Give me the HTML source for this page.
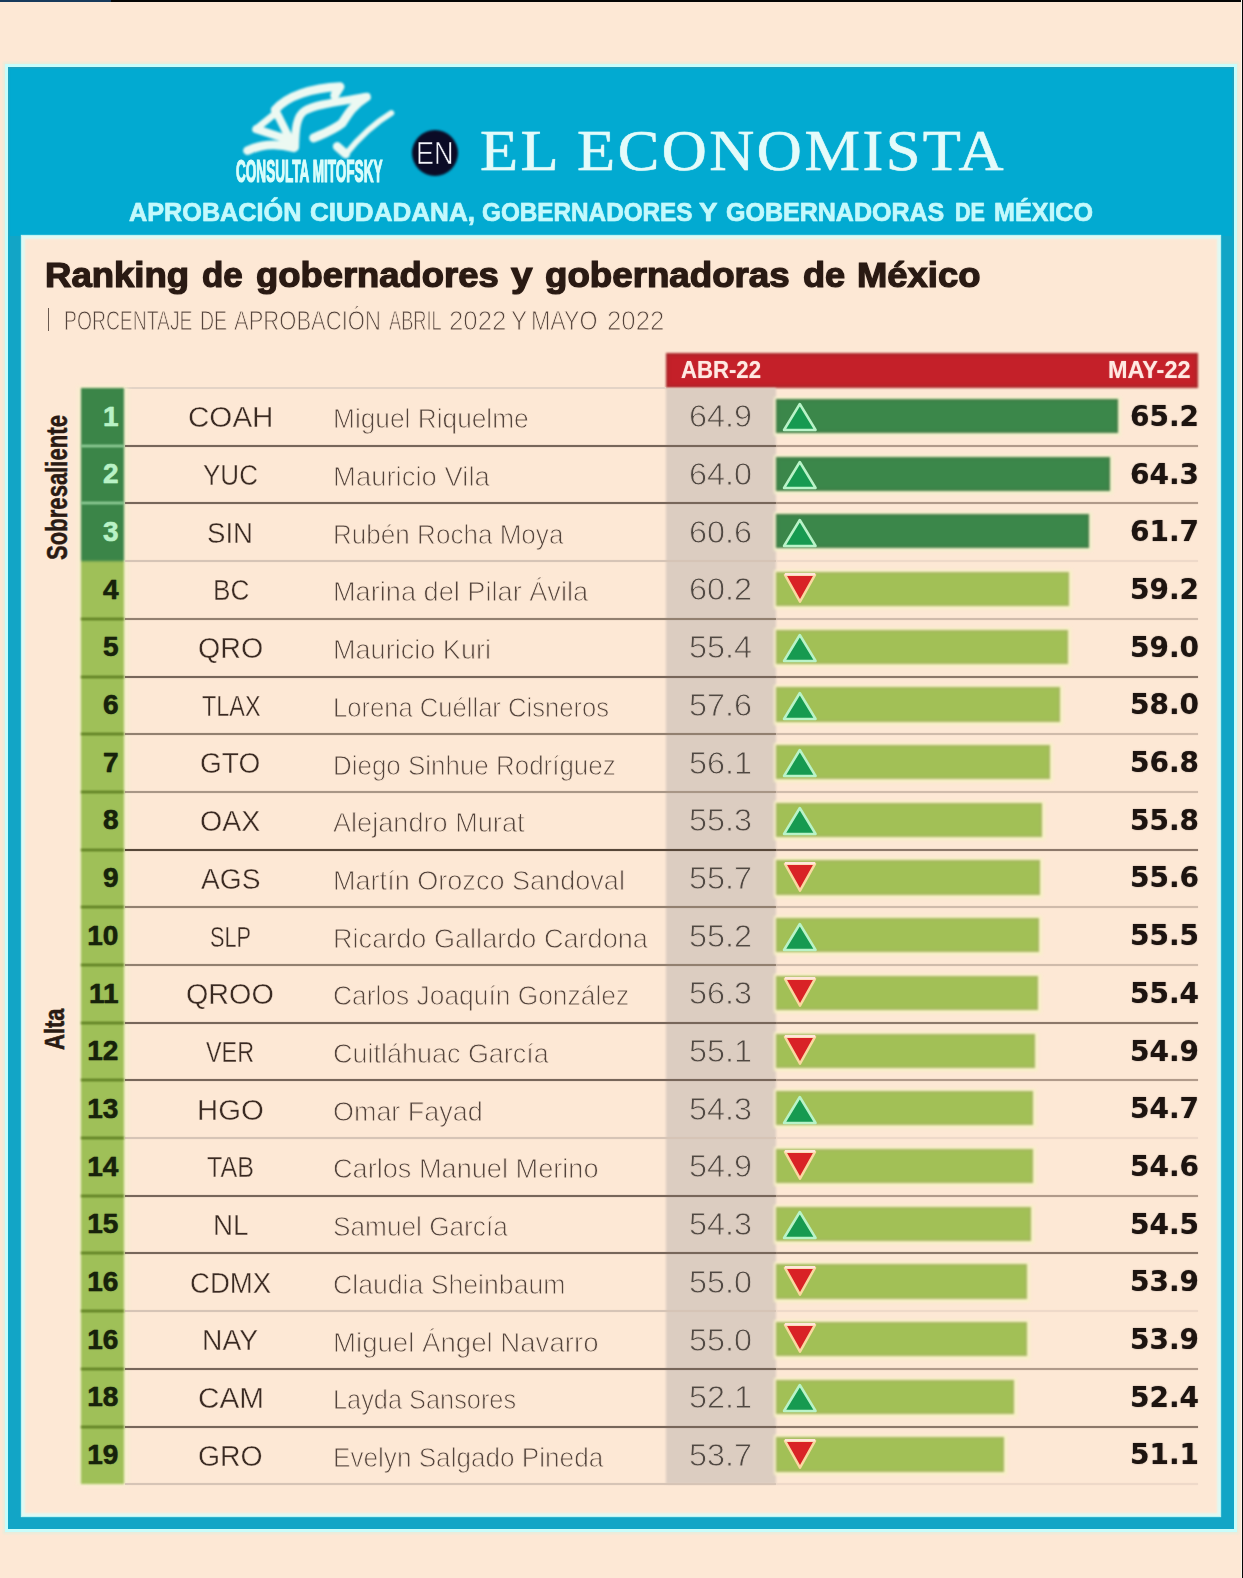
<!DOCTYPE html>
<html lang="es"><head><meta charset="utf-8"><title>Ranking de gobernadores y gobernadoras de México</title>
<style>
html,body{margin:0;padding:0}
body{width:1243px;height:1578px;overflow:hidden;background:#fde8d5}
.page{position:relative;width:1243px;height:1578px;overflow:hidden;background:#fde8d5}
.page *{position:absolute;margin:0;padding:0;box-sizing:border-box}
.t{white-space:pre;line-height:0;height:0;transform-origin:0 0;display:block}
.topbar{left:0;top:0;width:1243px;height:2px;background:#050505}
.topbar i{left:0;top:0;width:111px;height:2px;background:#173a5c}
.edge{left:1240.6px;top:0;width:2.4px;height:1578px;background:linear-gradient(90deg,#f6f6ee 0,#f6f6ee 55%,#060606 60%,#060606 100%)}
.frame{left:8px;top:67px;width:1226px;height:1462px;background:#02aad1;box-shadow:inset 0 0 1px 1.5px #239fbb,0 0 0 3px #c9fdfb,0 0 2px 5px #e9ecdb}
.band{left:22px;top:236px;width:1198px;height:1280px;box-shadow:0 0 0 14px #12a5c6;clip-path:inset(0 -14px -13px -14px)}
.panel{left:22px;top:236px;width:1198px;height:1280px;background:#fde8d5;box-shadow:inset 0 0 2px 3px #e0f9f3,0 0 1px 1px #bff3f2}
.en-dot{left:412px;top:129.5px;width:46px;height:46px;border-radius:50%;background:#0b0b26}
.pipe{left:47.6px;top:307.5px;width:1.6px;height:23.5px;background:#6a5a50}
.tagline,.title,.sub{left:0;top:0;width:0;height:0}
.thead{left:665.5px;top:353px;width:532.5px;height:34.5px;background:#c42029;box-shadow:inset 0 0 4px 1px rgba(140,50,45,.7)}
.abrcol{left:665.5px;top:387.5px;width:110.5px;height:1096.5px;background:#dccdc1}
.topline{left:125px;top:387px;width:541px;height:1.5px;background:#e3d3c6}
.ln{left:125px;height:2px;width:1073px;background:#84705f}
.ln.l{background:#c5b4a6}
.rkc{left:80.7px;width:43.4px;box-shadow:3px 0 4px 1px #f7f0cf,-2px 0 3px 1px #f7f0cf}
.rln{left:80.7px;width:43.4px;height:2px}
.rln.d{background:#a9e3ae}
.rln.g{background:#4d6d14}
.bar{left:776px;height:34.3px}
.bar.d{background:#3b874a;box-shadow:0 0 2px 2.5px #f3f0cc,inset 0 0 3px 1px rgba(90,110,70,.55)}
.bar.g{background:#a2c056;box-shadow:0 0 2px 2.5px #f7f1c6,inset 0 0 3px 1px rgba(170,175,110,.8)}
.tri{width:40px;height:34px;overflow:visible}
.hdr,.content{left:0;top:0;width:1243px;height:1578px}
.bar,.rkc,.thead,.abrcol,.en-dot,.rln{filter:blur(.8px)}
.f1{font:bold 30.5px/0 'Liberation Sans',sans-serif;color:#d9fdfb;-webkit-text-stroke:1.2px #d9fdfb;text-shadow:0 0 1.2px #d9fdfb99}
.f2{font:normal 31px/0 'Liberation Sans',sans-serif;color:#f4f4fa;-webkit-text-stroke:.6px #0b0b26}
.f3{font:normal 58px/0 'Liberation Serif',serif;color:#e4fbfa;letter-spacing:2.35px;-webkit-text-stroke:.5px #e4fbfa;text-shadow:0 0 1.2px #e4fbfa99}
.f4{font:bold 26px/0 'Liberation Sans',sans-serif;color:#c4f9fc;-webkit-text-stroke:.6px #c4f9fc;text-shadow:0 0 1.2px #c4f9fc99}
.f5{font:bold 34.6px/0 'Liberation Sans',sans-serif;color:#2a1a13;-webkit-text-stroke:1.2px #2a1a13;text-shadow:0 0 1.2px #2a1a1399}
.f6{font:normal 27.3px/0 'Liberation Sans',sans-serif;color:#54433b;-webkit-text-stroke:.9px #fde8d5}
.f7{font:bold 24px/0 'Liberation Sans',sans-serif;color:#ffe9e2;text-shadow:0 0 1.2px #ffe9e299}
.f8{font:bold 28px/0 'Liberation Sans',sans-serif;color:#b9f2c6;-webkit-text-stroke:.4px #b9f2c6;text-shadow:0 0 1.2px #b9f2c699}
.f9{font:normal 30px/0 'Liberation Sans',sans-serif;color:#3a2a22;-webkit-text-stroke:.4px #fde8d5}
.f10{font:normal 28px/0 'Liberation Sans',sans-serif;color:#54443c;-webkit-text-stroke:.85px #fde8d5}
.f11{font:normal 30.5px/0 'Liberation Sans',sans-serif;color:#504842;-webkit-text-stroke:.8px #dccdc1}
.f12{font:bold 28px/0 'DejaVu Sans','Liberation Sans',sans-serif;color:#1d1410;text-shadow:0 0 1.2px #1d141099}
.f13{font:bold 28px/0 'Liberation Sans',sans-serif;color:#17220b;-webkit-text-stroke:.4px #17220b;text-shadow:0 0 1.2px #17220b99}
.side{white-space:pre;height:0;transform-origin:0 0;font:bold 29px/0 'Liberation Sans',sans-serif;color:#2a1a13}
</style></head>
<body>
<div class="page">
<div class="topbar"><i></i></div>
<div class="edge"></div>
<section class="frame"></section>
<div class="band"></div>
<header class="hdr">
<svg class="logo" style="left:230px;top:75px;width:170px;height:120px;overflow:visible;filter:blur(.8px)" viewBox="0 0 1243 877" fill="none" stroke="#ecf9f2" stroke-linecap="round" stroke-linejoin="round">
<path d="M330 255 C420 150 600 95 805 85 L765 150" stroke-width="64"/>
<path d="M1000 160 C800 195 620 215 545 262 C485 300 478 400 475 525" stroke-width="60"/>
<path d="M990 165 C900 220 860 290 822 350 C760 400 680 430 612 460" stroke-width="66"/>
<path d="M332 258 L455 505" stroke-width="58"/>
<path d="M192 396 L458 482" stroke-width="60"/>
<path d="M196 390 L330 282" stroke-width="50"/>
<path d="M128 553 C220 508 340 496 468 532" stroke-width="64"/>
<path d="M784 522 L846 578" stroke-width="64"/>
<path d="M846 580 C950 450 1060 350 1180 278" stroke-width="42"/>
</svg>

<div class="en-dot"></div>

<span class="t mit f1" style="left:235.5px;top:171.3px;transform:scaleX(0.4449)">CONSULTA MITOFSKY</span>
<span class="t en f2" style="left:415.5px;top:154.3px;transform:scaleX(0.8705)">EN</span>
<span class="t brand f3" style="left:480.0px;top:151.2px;transform:scaleX(1.0750)">EL ECONOMISTA</span>
<p class="tagline"><span class="t w f4" style="left:128.8px;top:212.4px;transform:scaleX(0.9703)">APROBACIÓN</span> <span class="t w f4" style="left:309.5px;top:212.4px;transform:scaleX(1.0020)">CIUDADANA,</span> <span class="t w f4" style="left:481.5px;top:212.4px;transform:scaleX(0.9341)">GOBERNADORES</span> <span class="t w f4" style="left:698.5px;top:212.4px;transform:scaleX(1.0667)">Y</span> <span class="t w f4" style="left:726.0px;top:212.4px;transform:scaleX(0.9625)">GOBERNADORAS</span> <span class="t w f4" style="left:954.6px;top:212.4px;transform:scaleX(0.8304)">DE</span> <span class="t w f4" style="left:993.5px;top:212.4px;transform:scaleX(0.9651)">MÉXICO</span></p>
</header>
<main class="panel"></main>
<div class="content">
<h1 class="title"><span class="t w f5" style="left:45.2px;top:275.2px;transform:scaleX(1.0564)">Ranking</span> <span class="t w f5" style="left:202.2px;top:275.2px;transform:scaleX(1.0109)">de</span> <span class="t w f5" style="left:256.4px;top:275.2px;transform:scaleX(1.0526)">gobernadores</span> <span class="t w f5" style="left:511.3px;top:275.2px;transform:scaleX(1.1178)">y</span> <span class="t w f5" style="left:545.1px;top:275.2px;transform:scaleX(1.0612)">gobernadoras</span> <span class="t w f5" style="left:803.1px;top:275.2px;transform:scaleX(1.0456)">de</span> <span class="t w f5" style="left:857.2px;top:275.2px;transform:scaleX(1.0526)">México</span></h1>
<p class="sub"><span class="t w f6" style="left:64.0px;top:321.4px;transform:scaleX(0.7080)">PORCENTAJE</span> <span class="t w f6" style="left:200.3px;top:321.4px;transform:scaleX(0.7146)">DE</span> <span class="t w f6" style="left:234.4px;top:321.4px;transform:scaleX(0.8065)">APROBACIÓN</span> <span class="t w f6" style="left:389.0px;top:321.4px;transform:scaleX(0.6666)">ABRIL</span> <span class="t w f6" style="left:449.4px;top:321.4px;transform:scaleX(0.9451)">2022</span> <span class="t w f6" style="left:510.5px;top:321.4px;transform:scaleX(0.8892)">Y</span> <span class="t w f6" style="left:531.0px;top:321.4px;transform:scaleX(0.8487)">MAYO</span> <span class="t w f6" style="left:606.5px;top:321.4px;transform:scaleX(0.9435)">2022</span></p>
<div class="pipe"></div><div class="thead"></div>
<span class="t th f7" style="left:681.0px;top:370.4px;transform:scaleX(0.9229)">ABR-22</span>
<span class="t th f7" style="left:1107.5px;top:370.4px;transform:scaleX(0.9763)">MAY-22</span>
<div class="abrcol"></div><div class="topline"></div>
<div class="rkc" style="top:388.0px;height:1096.3px;background:linear-gradient(#3b8548 0,#3b8548 172.1px,#9fc058 174.1px)"></div>
<div class="row" style="left:0;top:0"> <span class="t rk f8" style="left:102.9px;top:416.5px;transform:scaleX(1.0000)">1</span> <span class="t code f9" style="left:187.5px;top:417.2px;transform:scaleX(0.9863)">COAH</span> <span class="t name f10" style="left:333.3px;top:419.3px;transform:scaleX(0.9384)">Miguel Riquelme</span> <span class="t abr f11" style="left:689.0px;top:416.3px;transform:scaleX(1.0611)">64.9</span> <div class="bar d" style="top:398.8px;width:341.6px"></div> <svg class="tri" style="left:780px;top:400.2px" viewBox="0 0 40 34"><path d="M19.8 4 L35.6 30 L4 30 Z" fill="#169a50" stroke="#b9f3c8" stroke-width="2.5" stroke-linejoin="round"/></svg> <span class="t may f12" style="left:1129.5px;top:416.8px;transform:scaleX(0.9986)">65.2</span> <div class="ln" style="top:445.2px;height:1.6px;width:651px;background:#77665a;box-shadow:0 0 1px #77665aaa"></div> <div class="ln" style="top:445.2px;height:1.6px;left:776px;width:422px;background:#b09a8a;box-shadow:0 0 1px #b09a8aaa"></div> <div class="rln d" style="top:445px"></div> </div>
<div class="row" style="left:0;top:0"> <span class="t rk f8" style="left:102.9px;top:474.2px;transform:scaleX(1.0000)">2</span> <span class="t code f9" style="left:203.0px;top:474.9px;transform:scaleX(0.8683)">YUC</span> <span class="t name f10" style="left:333.3px;top:477.0px;transform:scaleX(0.9813)">Mauricio Vila</span> <span class="t abr f11" style="left:689.0px;top:474.0px;transform:scaleX(1.0611)">64.0</span> <div class="bar d" style="top:456.5px;width:334.3px"></div> <svg class="tri" style="left:780px;top:457.9px" viewBox="0 0 40 34"><path d="M19.8 4 L35.6 30 L4 30 Z" fill="#169a50" stroke="#b9f3c8" stroke-width="2.5" stroke-linejoin="round"/></svg> <span class="t may f12" style="left:1129.5px;top:474.5px;transform:scaleX(0.9986)">64.3</span> <div class="ln" style="top:502.2px;height:1.6px;width:651px;background:#77665a;box-shadow:0 0 1px #77665aaa"></div> <div class="ln" style="top:502.2px;height:1.6px;left:776px;width:422px;background:#b09a8a;box-shadow:0 0 1px #b09a8aaa"></div> <div class="rln d" style="top:502px"></div> </div>
<div class="row" style="left:0;top:0"> <span class="t rk f8" style="left:102.9px;top:531.9px;transform:scaleX(1.0000)">3</span> <span class="t code f9" style="left:207.0px;top:532.6px;transform:scaleX(0.9197)">SIN</span> <span class="t name f10" style="left:333.3px;top:534.7px;transform:scaleX(0.9310)">Rubén Rocha Moya</span> <span class="t abr f11" style="left:689.0px;top:531.7px;transform:scaleX(1.0611)">60.6</span> <div class="bar d" style="top:514.2px;width:313.3px"></div> <svg class="tri" style="left:780px;top:515.6px" viewBox="0 0 40 34"><path d="M19.8 4 L35.6 30 L4 30 Z" fill="#169a50" stroke="#b9f3c8" stroke-width="2.5" stroke-linejoin="round"/></svg> <span class="t may f12" style="left:1129.5px;top:532.2px;transform:scaleX(0.9986)">61.7</span> <div class="ln" style="top:560.2px;height:1.6px;width:651px;background:#d6c4b6;box-shadow:0 0 1px #d6c4b6aa"></div> <div class="ln" style="top:560.2px;height:1.6px;left:776px;width:422px;background:#eed9c9;box-shadow:0 0 1px #eed9c9aa"></div> </div>
<div class="row" style="left:0;top:0"> <span class="t rk f13" style="left:102.9px;top:589.6px;transform:scaleX(1.0000)">4</span> <span class="t code f9" style="left:212.6px;top:590.3px;transform:scaleX(0.8732)">BC</span> <span class="t name f10" style="left:333.3px;top:592.4px;transform:scaleX(0.9700)">Marina del Pilar Ávila</span> <span class="t abr f11" style="left:689.0px;top:589.4px;transform:scaleX(1.0611)">60.2</span> <div class="bar g" style="top:571.9px;width:293.0px"></div> <svg class="tri" style="left:780px;top:573.1px" viewBox="0 0 40 34"><path d="M5 1.8 L35 1.8 L20 28.6 Z" fill="#d92226" stroke="#f9d9a0" stroke-width="2.5" stroke-linejoin="round"/><path d="M5 1.2 L35 1.2" stroke="#ffe6dc" stroke-width="2.4"/></svg> <span class="t may f12" style="left:1129.5px;top:589.9px;transform:scaleX(0.9986)">59.2</span> <div class="ln" style="top:618.2px;height:1.6px;width:651px;background:#928070;box-shadow:0 0 1px #928070aa"></div> <div class="ln" style="top:618.2px;height:1.6px;left:776px;width:422px;background:#cfbbab;box-shadow:0 0 1px #cfbbabaa"></div> <div class="rln g" style="top:618px"></div> </div>
<div class="row" style="left:0;top:0"> <span class="t rk f13" style="left:102.9px;top:647.3px;transform:scaleX(1.0000)">5</span> <span class="t code f9" style="left:197.5px;top:648.0px;transform:scaleX(0.9540)">QRO</span> <span class="t name f10" style="left:333.3px;top:650.1px;transform:scaleX(0.9670)">Mauricio Kuri</span> <span class="t abr f11" style="left:689.0px;top:647.1px;transform:scaleX(1.0611)">55.4</span> <div class="bar g" style="top:629.6px;width:292.0px"></div> <svg class="tri" style="left:780px;top:631.0px" viewBox="0 0 40 34"><path d="M19.8 4 L35.6 30 L4 30 Z" fill="#169a50" stroke="#b9f3c8" stroke-width="2.5" stroke-linejoin="round"/></svg> <span class="t may f12" style="left:1129.5px;top:647.6px;transform:scaleX(0.9986)">59.0</span> <div class="ln" style="top:676.2px;height:1.6px;width:651px;background:#77665a;box-shadow:0 0 1px #77665aaa"></div> <div class="ln" style="top:676.2px;height:1.6px;left:776px;width:422px;background:#8c786a;box-shadow:0 0 1px #8c786aaa"></div> <div class="rln g" style="top:676px"></div> </div>
<div class="row" style="left:0;top:0"> <span class="t rk f13" style="left:102.9px;top:705.0px;transform:scaleX(1.0000)">6</span> <span class="t code f9" style="left:201.7px;top:705.7px;transform:scaleX(0.7797)">TLAX</span> <span class="t name f10" style="left:333.3px;top:707.8px;transform:scaleX(0.9141)">Lorena Cuéllar Cisneros</span> <span class="t abr f11" style="left:689.0px;top:704.8px;transform:scaleX(1.0611)">57.6</span> <div class="bar g" style="top:687.3px;width:283.5px"></div> <svg class="tri" style="left:780px;top:688.7px" viewBox="0 0 40 34"><path d="M19.8 4 L35.6 30 L4 30 Z" fill="#169a50" stroke="#b9f3c8" stroke-width="2.5" stroke-linejoin="round"/></svg> <span class="t may f12" style="left:1129.5px;top:705.3px;transform:scaleX(0.9986)">58.0</span> <div class="ln" style="top:733.2px;height:1.6px;width:651px;background:#928070;box-shadow:0 0 1px #928070aa"></div> <div class="ln" style="top:733.2px;height:1.6px;left:776px;width:422px;background:#cfbbab;box-shadow:0 0 1px #cfbbabaa"></div> <div class="rln g" style="top:733px"></div> </div>
<div class="row" style="left:0;top:0"> <span class="t rk f13" style="left:102.9px;top:762.7px;transform:scaleX(1.0000)">7</span> <span class="t code f9" style="left:200.0px;top:763.4px;transform:scaleX(0.9340)">GTO</span> <span class="t name f10" style="left:333.3px;top:765.5px;transform:scaleX(0.9266)">Diego Sinhue Rodríguez</span> <span class="t abr f11" style="left:689.0px;top:762.5px;transform:scaleX(1.0611)">56.1</span> <div class="bar g" style="top:745.0px;width:274.0px"></div> <svg class="tri" style="left:780px;top:746.4px" viewBox="0 0 40 34"><path d="M19.8 4 L35.6 30 L4 30 Z" fill="#169a50" stroke="#b9f3c8" stroke-width="2.5" stroke-linejoin="round"/></svg> <span class="t may f12" style="left:1129.5px;top:763.0px;transform:scaleX(0.9986)">56.8</span> <div class="ln" style="top:791.2px;height:1.6px;width:651px;background:#a89686;box-shadow:0 0 1px #a89686aa"></div> <div class="ln" style="top:791.2px;height:1.6px;left:776px;width:422px;background:#cfbbab;box-shadow:0 0 1px #cfbbabaa"></div> <div class="rln g" style="top:791px"></div> </div>
<div class="row" style="left:0;top:0"> <span class="t rk f13" style="left:102.9px;top:820.4px;transform:scaleX(1.0000)">8</span> <span class="t code f9" style="left:200.0px;top:821.1px;transform:scaleX(0.9501)">OAX</span> <span class="t name f10" style="left:333.3px;top:823.2px;transform:scaleX(0.9689)">Alejandro Murat</span> <span class="t abr f11" style="left:689.0px;top:820.2px;transform:scaleX(1.0611)">55.3</span> <div class="bar g" style="top:802.7px;width:266.0px"></div> <svg class="tri" style="left:780px;top:804.1px" viewBox="0 0 40 34"><path d="M19.8 4 L35.6 30 L4 30 Z" fill="#169a50" stroke="#b9f3c8" stroke-width="2.5" stroke-linejoin="round"/></svg> <span class="t may f12" style="left:1129.5px;top:820.7px;transform:scaleX(0.9986)">55.8</span> <div class="ln" style="top:849.2px;height:1.6px;width:651px;background:#574739;box-shadow:0 0 1px #574739aa"></div> <div class="ln" style="top:849.2px;height:1.6px;left:776px;width:422px;background:#8c786a;box-shadow:0 0 1px #8c786aaa"></div> <div class="rln g" style="top:849px"></div> </div>
<div class="row" style="left:0;top:0"> <span class="t rk f13" style="left:102.9px;top:878.1px;transform:scaleX(1.0000)">9</span> <span class="t code f9" style="left:200.8px;top:878.8px;transform:scaleX(0.9375)">AGS</span> <span class="t name f10" style="left:333.3px;top:880.9px;transform:scaleX(0.9668)">Martín Orozco Sandoval</span> <span class="t abr f11" style="left:689.0px;top:877.9px;transform:scaleX(1.0611)">55.7</span> <div class="bar g" style="top:860.4px;width:263.7px"></div> <svg class="tri" style="left:780px;top:861.6px" viewBox="0 0 40 34"><path d="M5 1.8 L35 1.8 L20 28.6 Z" fill="#d92226" stroke="#f9d9a0" stroke-width="2.5" stroke-linejoin="round"/><path d="M5 1.2 L35 1.2" stroke="#ffe6dc" stroke-width="2.4"/></svg> <span class="t may f12" style="left:1129.5px;top:878.4px;transform:scaleX(0.9986)">55.6</span> <div class="ln" style="top:906.2px;height:1.6px;width:651px;background:#928070;box-shadow:0 0 1px #928070aa"></div> <div class="ln" style="top:906.2px;height:1.6px;left:776px;width:422px;background:#cfbbab;box-shadow:0 0 1px #cfbbabaa"></div> <div class="rln g" style="top:906px"></div> </div>
<div class="row" style="left:0;top:0"> <span class="t rk f13" style="left:87.3px;top:935.8px;transform:scaleX(1.0000)">10</span> <span class="t code f9" style="left:210.0px;top:936.5px;transform:scaleX(0.7229)">SLP</span> <span class="t name f10" style="left:333.3px;top:938.6px;transform:scaleX(0.9681)">Ricardo Gallardo Cardona</span> <span class="t abr f11" style="left:689.0px;top:935.6px;transform:scaleX(1.0611)">55.2</span> <div class="bar g" style="top:918.1px;width:263.3px"></div> <svg class="tri" style="left:780px;top:919.5px" viewBox="0 0 40 34"><path d="M19.8 4 L35.6 30 L4 30 Z" fill="#169a50" stroke="#b9f3c8" stroke-width="2.5" stroke-linejoin="round"/></svg> <span class="t may f12" style="left:1129.5px;top:936.1px;transform:scaleX(0.9986)">55.5</span> <div class="ln" style="top:964.2px;height:1.6px;width:651px;background:#928070;box-shadow:0 0 1px #928070aa"></div> <div class="ln" style="top:964.2px;height:1.6px;left:776px;width:422px;background:#cfbbab;box-shadow:0 0 1px #cfbbabaa"></div> <div class="rln g" style="top:964px"></div> </div>
<div class="row" style="left:0;top:0"> <span class="t rk f13" style="left:88.9px;top:993.5px;transform:scaleX(1.0000)">11</span> <span class="t code f9" style="left:186.2px;top:994.2px;transform:scaleX(0.9578)">QROO</span> <span class="t name f10" style="left:333.3px;top:996.3px;transform:scaleX(0.9418)">Carlos Joaquín González</span> <span class="t abr f11" style="left:689.0px;top:993.3px;transform:scaleX(1.0611)">56.3</span> <div class="bar g" style="top:975.8px;width:261.5px"></div> <svg class="tri" style="left:780px;top:977.0px" viewBox="0 0 40 34"><path d="M5 1.8 L35 1.8 L20 28.6 Z" fill="#d92226" stroke="#f9d9a0" stroke-width="2.5" stroke-linejoin="round"/><path d="M5 1.2 L35 1.2" stroke="#ffe6dc" stroke-width="2.4"/></svg> <span class="t may f12" style="left:1129.5px;top:993.8px;transform:scaleX(0.9986)">55.4</span> <div class="ln" style="top:1022.2px;height:1.6px;width:651px;background:#77665a;box-shadow:0 0 1px #77665aaa"></div> <div class="ln" style="top:1022.2px;height:1.6px;left:776px;width:422px;background:#8c786a;box-shadow:0 0 1px #8c786aaa"></div> <div class="rln g" style="top:1022px"></div> </div>
<div class="row" style="left:0;top:0"> <span class="t rk f13" style="left:87.3px;top:1051.2px;transform:scaleX(1.0000)">12</span> <span class="t code f9" style="left:205.9px;top:1051.9px;transform:scaleX(0.7781)">VER</span> <span class="t name f10" style="left:333.3px;top:1054.0px;transform:scaleX(0.9629)">Cuitláhuac García</span> <span class="t abr f11" style="left:689.0px;top:1051.0px;transform:scaleX(1.0611)">55.1</span> <div class="bar g" style="top:1033.5px;width:258.8px"></div> <svg class="tri" style="left:780px;top:1034.7px" viewBox="0 0 40 34"><path d="M5 1.8 L35 1.8 L20 28.6 Z" fill="#d92226" stroke="#f9d9a0" stroke-width="2.5" stroke-linejoin="round"/><path d="M5 1.2 L35 1.2" stroke="#ffe6dc" stroke-width="2.4"/></svg> <span class="t may f12" style="left:1129.5px;top:1051.5px;transform:scaleX(0.9986)">54.9</span> <div class="ln" style="top:1079.2px;height:1.6px;width:651px;background:#77665a;box-shadow:0 0 1px #77665aaa"></div> <div class="ln" style="top:1079.2px;height:1.6px;left:776px;width:422px;background:#b09a8a;box-shadow:0 0 1px #b09a8aaa"></div> <div class="rln g" style="top:1079px"></div> </div>
<div class="row" style="left:0;top:0"> <span class="t rk f13" style="left:87.3px;top:1108.9px;transform:scaleX(1.0000)">13</span> <span class="t code f9" style="left:196.7px;top:1109.6px;transform:scaleX(0.9774)">HGO</span> <span class="t name f10" style="left:333.3px;top:1111.7px;transform:scaleX(0.9620)">Omar Fayad</span> <span class="t abr f11" style="left:689.0px;top:1108.7px;transform:scaleX(1.0611)">54.3</span> <div class="bar g" style="top:1091.2px;width:256.5px"></div> <svg class="tri" style="left:780px;top:1092.6px" viewBox="0 0 40 34"><path d="M19.8 4 L35.6 30 L4 30 Z" fill="#169a50" stroke="#b9f3c8" stroke-width="2.5" stroke-linejoin="round"/></svg> <span class="t may f12" style="left:1129.5px;top:1109.2px;transform:scaleX(0.9986)">54.7</span> <div class="ln" style="top:1137.2px;height:1.6px;width:651px;background:#d6c4b6;box-shadow:0 0 1px #d6c4b6aa"></div> <div class="ln" style="top:1137.2px;height:1.6px;left:776px;width:422px;background:#eed9c9;box-shadow:0 0 1px #eed9c9aa"></div> <div class="rln g" style="top:1137px"></div> </div>
<div class="row" style="left:0;top:0"> <span class="t rk f13" style="left:87.3px;top:1166.6px;transform:scaleX(1.0000)">14</span> <span class="t code f9" style="left:207.0px;top:1167.3px;transform:scaleX(0.8374)">TAB</span> <span class="t name f10" style="left:333.3px;top:1169.4px;transform:scaleX(0.9694)">Carlos Manuel Merino</span> <span class="t abr f11" style="left:689.0px;top:1166.4px;transform:scaleX(1.0611)">54.9</span> <div class="bar g" style="top:1148.9px;width:256.5px"></div> <svg class="tri" style="left:780px;top:1150.1px" viewBox="0 0 40 34"><path d="M5 1.8 L35 1.8 L20 28.6 Z" fill="#d92226" stroke="#f9d9a0" stroke-width="2.5" stroke-linejoin="round"/><path d="M5 1.2 L35 1.2" stroke="#ffe6dc" stroke-width="2.4"/></svg> <span class="t may f12" style="left:1129.5px;top:1166.9px;transform:scaleX(0.9986)">54.6</span> <div class="ln" style="top:1195.2px;height:1.6px;width:651px;background:#77665a;box-shadow:0 0 1px #77665aaa"></div> <div class="ln" style="top:1195.2px;height:1.6px;left:776px;width:422px;background:#b09a8a;box-shadow:0 0 1px #b09a8aaa"></div> <div class="rln g" style="top:1195px"></div> </div>
<div class="row" style="left:0;top:0"> <span class="t rk f13" style="left:87.3px;top:1224.3px;transform:scaleX(1.0000)">15</span> <span class="t code f9" style="left:213.4px;top:1225.0px;transform:scaleX(0.9281)">NL</span> <span class="t name f10" style="left:333.3px;top:1227.1px;transform:scaleX(0.9360)">Samuel García</span> <span class="t abr f11" style="left:689.0px;top:1224.1px;transform:scaleX(1.0611)">54.3</span> <div class="bar g" style="top:1206.6px;width:254.7px"></div> <svg class="tri" style="left:780px;top:1208.0px" viewBox="0 0 40 34"><path d="M19.8 4 L35.6 30 L4 30 Z" fill="#169a50" stroke="#b9f3c8" stroke-width="2.5" stroke-linejoin="round"/></svg> <span class="t may f12" style="left:1129.5px;top:1224.6px;transform:scaleX(0.9986)">54.5</span> <div class="ln" style="top:1252.2px;height:1.6px;width:651px;background:#77665a;box-shadow:0 0 1px #77665aaa"></div> <div class="ln" style="top:1252.2px;height:1.6px;left:776px;width:422px;background:#8c786a;box-shadow:0 0 1px #8c786aaa"></div> <div class="rln g" style="top:1252px"></div> </div>
<div class="row" style="left:0;top:0"> <span class="t rk f13" style="left:87.3px;top:1282.0px;transform:scaleX(1.0000)">16</span> <span class="t code f9" style="left:189.5px;top:1282.7px;transform:scaleX(0.9180)">CDMX</span> <span class="t name f10" style="left:333.3px;top:1284.8px;transform:scaleX(0.9513)">Claudia Sheinbaum</span> <span class="t abr f11" style="left:689.0px;top:1281.8px;transform:scaleX(1.0611)">55.0</span> <div class="bar g" style="top:1264.3px;width:250.7px"></div> <svg class="tri" style="left:780px;top:1265.5px" viewBox="0 0 40 34"><path d="M5 1.8 L35 1.8 L20 28.6 Z" fill="#d92226" stroke="#f9d9a0" stroke-width="2.5" stroke-linejoin="round"/><path d="M5 1.2 L35 1.2" stroke="#ffe6dc" stroke-width="2.4"/></svg> <span class="t may f12" style="left:1129.5px;top:1282.3px;transform:scaleX(0.9986)">53.9</span> <div class="ln" style="top:1310.2px;height:1.6px;width:651px;background:#d6c4b6;box-shadow:0 0 1px #d6c4b6aa"></div> <div class="ln" style="top:1310.2px;height:1.6px;left:776px;width:422px;background:#eed9c9;box-shadow:0 0 1px #eed9c9aa"></div> <div class="rln g" style="top:1310px"></div> </div>
<div class="row" style="left:0;top:0"> <span class="t rk f13" style="left:87.3px;top:1339.7px;transform:scaleX(1.0000)">16</span> <span class="t code f9" style="left:202.0px;top:1340.4px;transform:scaleX(0.9417)">NAY</span> <span class="t name f10" style="left:333.3px;top:1342.5px;transform:scaleX(0.9861)">Miguel Ángel Navarro</span> <span class="t abr f11" style="left:689.0px;top:1339.5px;transform:scaleX(1.0611)">55.0</span> <div class="bar g" style="top:1322.0px;width:250.7px"></div> <svg class="tri" style="left:780px;top:1323.2px" viewBox="0 0 40 34"><path d="M5 1.8 L35 1.8 L20 28.6 Z" fill="#d92226" stroke="#f9d9a0" stroke-width="2.5" stroke-linejoin="round"/><path d="M5 1.2 L35 1.2" stroke="#ffe6dc" stroke-width="2.4"/></svg> <span class="t may f12" style="left:1129.5px;top:1340.0px;transform:scaleX(0.9986)">53.9</span> <div class="ln" style="top:1368.2px;height:1.6px;width:651px;background:#77665a;box-shadow:0 0 1px #77665aaa"></div> <div class="ln" style="top:1368.2px;height:1.6px;left:776px;width:422px;background:#b09a8a;box-shadow:0 0 1px #b09a8aaa"></div> <div class="rln g" style="top:1368px"></div> </div>
<div class="row" style="left:0;top:0"> <span class="t rk f13" style="left:87.3px;top:1397.4px;transform:scaleX(1.0000)">18</span> <span class="t code f9" style="left:197.5px;top:1398.1px;transform:scaleX(0.9899)">CAM</span> <span class="t name f10" style="left:333.3px;top:1400.2px;transform:scaleX(0.9048)">Layda Sansores</span> <span class="t abr f11" style="left:689.0px;top:1397.2px;transform:scaleX(1.0611)">52.1</span> <div class="bar g" style="top:1379.7px;width:238.0px"></div> <svg class="tri" style="left:780px;top:1381.1px" viewBox="0 0 40 34"><path d="M19.8 4 L35.6 30 L4 30 Z" fill="#169a50" stroke="#b9f3c8" stroke-width="2.5" stroke-linejoin="round"/></svg> <span class="t may f12" style="left:1129.5px;top:1397.7px;transform:scaleX(0.9986)">52.4</span> <div class="ln" style="top:1426.2px;height:1.6px;width:651px;background:#77665a;box-shadow:0 0 1px #77665aaa"></div> <div class="ln" style="top:1426.2px;height:1.6px;left:776px;width:422px;background:#8c786a;box-shadow:0 0 1px #8c786aaa"></div> <div class="rln g" style="top:1426px"></div> </div>
<div class="row" style="left:0;top:0"> <span class="t rk f13" style="left:87.3px;top:1455.1px;transform:scaleX(1.0000)">19</span> <span class="t code f9" style="left:198.0px;top:1455.8px;transform:scaleX(0.9467)">GRO</span> <span class="t name f10" style="left:333.3px;top:1457.9px;transform:scaleX(0.9332)">Evelyn Salgado Pineda</span> <span class="t abr f11" style="left:689.0px;top:1454.9px;transform:scaleX(1.0611)">53.7</span> <div class="bar g" style="top:1437.4px;width:227.7px"></div> <svg class="tri" style="left:780px;top:1438.6px" viewBox="0 0 40 34"><path d="M5 1.8 L35 1.8 L20 28.6 Z" fill="#d92226" stroke="#f9d9a0" stroke-width="2.5" stroke-linejoin="round"/><path d="M5 1.2 L35 1.2" stroke="#ffe6dc" stroke-width="2.4"/></svg> <span class="t may f12" style="left:1129.5px;top:1455.4px;transform:scaleX(0.9986)">51.1</span> <div class="ln" style="top:1483.2px;height:1.6px;width:651px;background:#d6c4b6;box-shadow:0 0 1px #d6c4b6aa"></div> <div class="ln" style="top:1483.2px;height:1.6px;left:776px;width:422px;background:#eed9c9;box-shadow:0 0 1px #eed9c9aa"></div> </div>
<div class="side" style="left:56.9px;top:559.6px;transform:rotate(-90deg) scaleX(.762);font-size:29px;-webkit-text-stroke:.5px #2a1a13">Sobresaliente</div>
<div class="side" style="left:55.2px;top:1050.2px;transform:rotate(-90deg) scaleX(.80);font-size:27.5px;-webkit-text-stroke:.6px #2a1a13">Alta</div>
</div>
</div>
</body></html>
